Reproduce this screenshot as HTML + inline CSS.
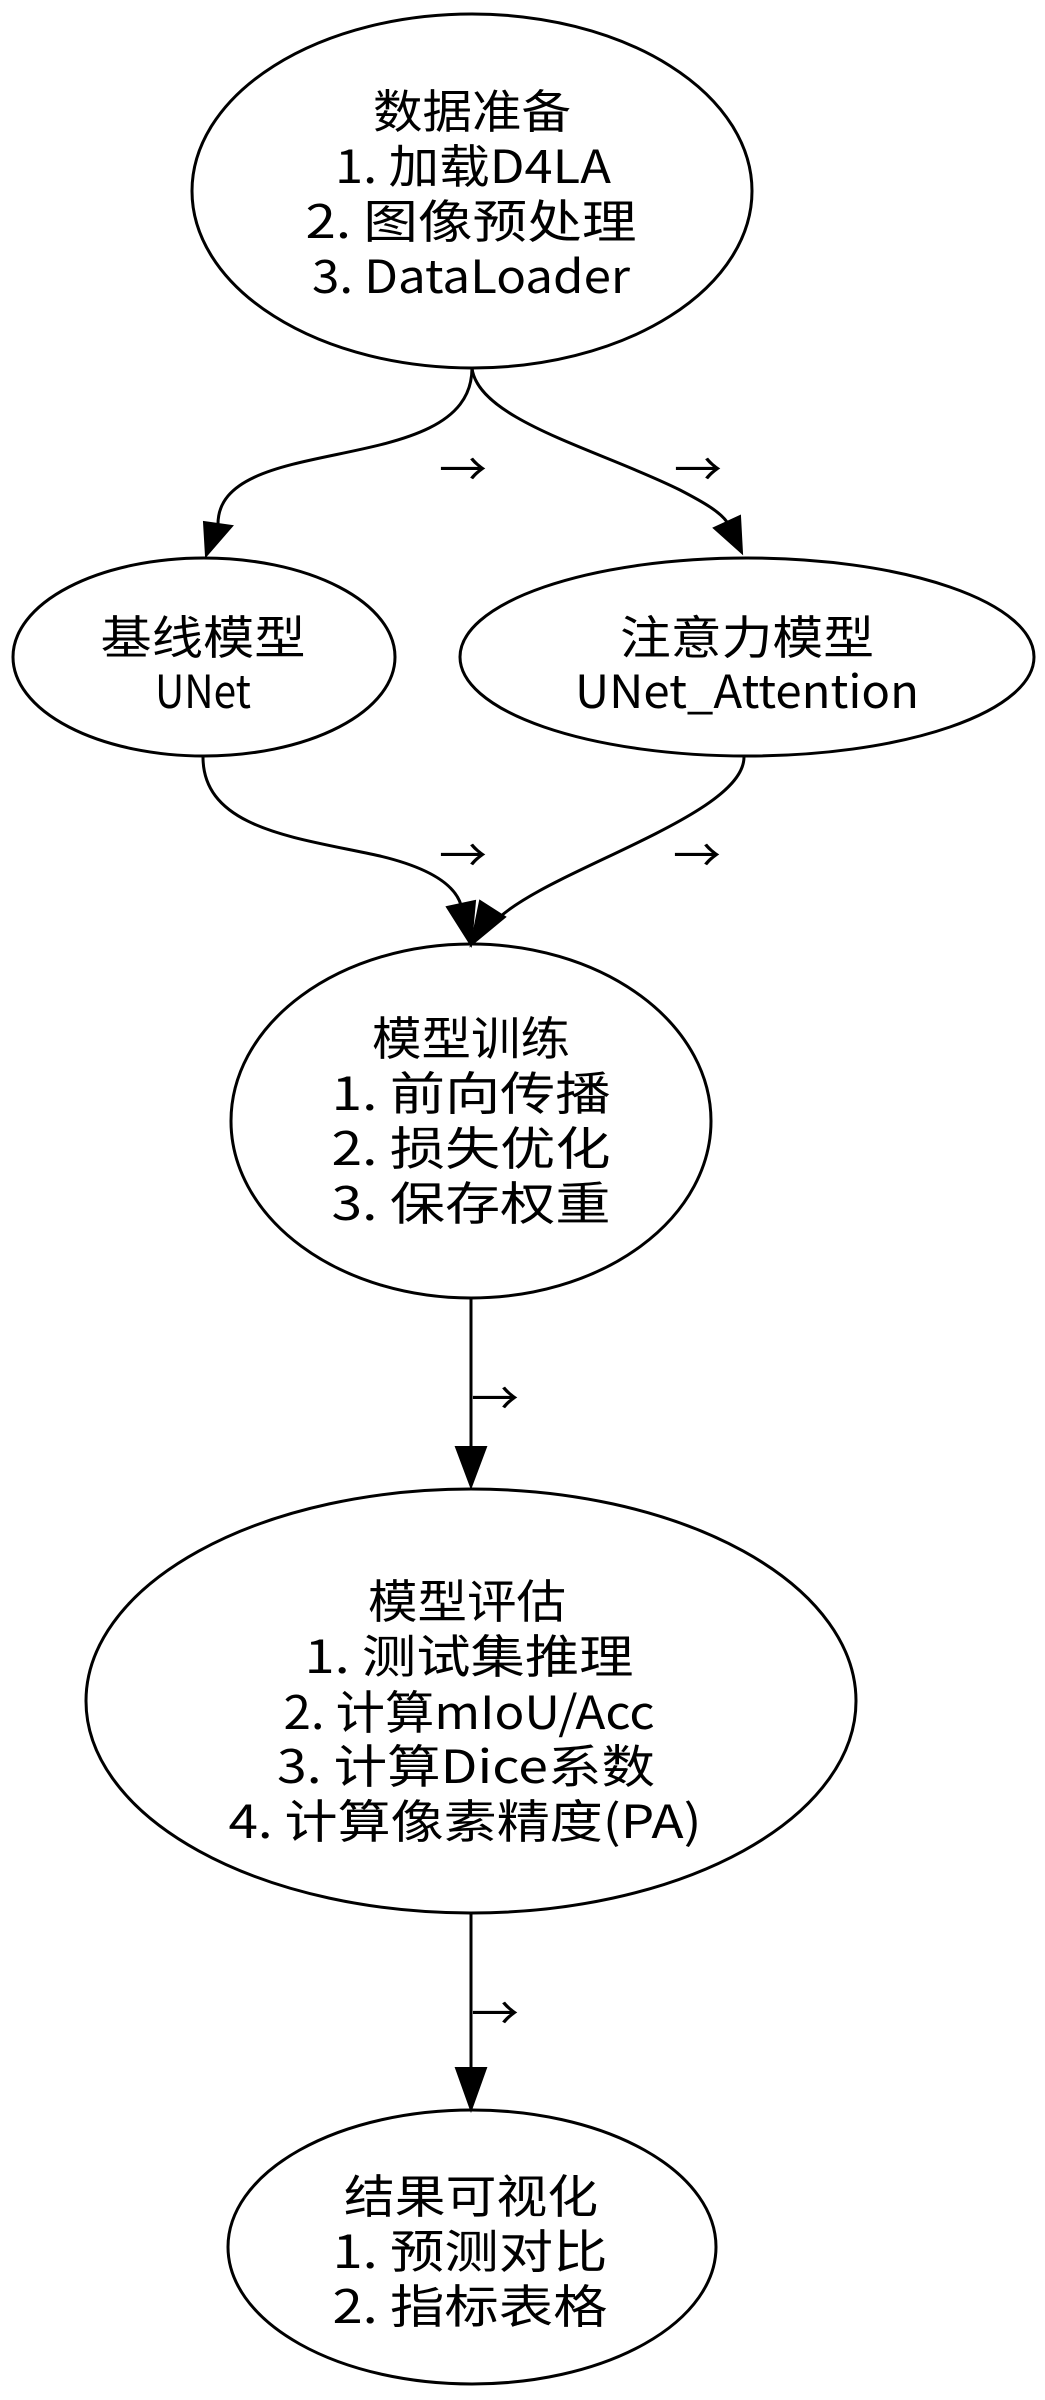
<!DOCTYPE html>
<html><head><meta charset="utf-8"><style>
html,body{margin:0;padding:0;background:#fff;}
svg{display:block;}
text{font-family:"WenQuanYi Zen Hei","Noto Sans CJK SC",sans-serif;font-size:46px;fill:#000;}
</style></head><body>
<svg width="1045" height="2400" viewBox="0 0 1045 2400" xmlns="http://www.w3.org/2000/svg">
<g fill="none" stroke="#000" stroke-width="3">
<ellipse cx="472" cy="191" rx="280" ry="177"/>
<ellipse cx="204" cy="657" rx="191" ry="99"/>
<ellipse cx="747" cy="657" rx="287" ry="99"/>
<ellipse cx="471" cy="1121" rx="240" ry="177"/>
<ellipse cx="471" cy="1701" rx="385" ry="212"/>
<ellipse cx="472" cy="2247" rx="244" ry="137"/>
<path d="M472,368 C472,480 218,430 218,524"/>
<path d="M472,368 C478,420 600,450 680,490 C705,503 720,512 727,522"/>
<path d="M203,757 C203,830 300,838 380,856 C430,868 455,885 461,905"/>
<path d="M744,757 C744,800 640,840 560,880 C520,900 500,915 492,925"/>
<path d="M471,1298 L471,1447"/>
<path d="M471,1913 L471,2068"/>
</g>
<g fill="#000" stroke="#000" stroke-width="2">
<polygon points="232,526 204,522 206,556"/>
<polygon points="740,516 714,528 742,553"/>
<polygon points="447,907 475,901 471,945"/>
<polygon points="480,901 505,917 471,945"/>
<polygon points="456,1447 486,1447 471,1487"/>
<polygon points="456,2068 486,2068 471,2110"/>
</g>
<g text-anchor="middle">
<text x="472" y="128" textLength="198" lengthAdjust="spacingAndGlyphs">数据准备</text>
<text x="473" y="183" textLength="276" lengthAdjust="spacingAndGlyphs">1. 加载D4LA</text>
<text x="471" y="238" textLength="331" lengthAdjust="spacingAndGlyphs">2. 图像预处理</text>
<text x="471" y="293" textLength="318" lengthAdjust="spacingAndGlyphs">3. DataLoader</text>

<text x="203" y="654" textLength="205" lengthAdjust="spacingAndGlyphs">基线模型</text>
<text x="203" y="708" textLength="96" lengthAdjust="spacingAndGlyphs">UNet</text>
<text x="747" y="654" textLength="254" lengthAdjust="spacingAndGlyphs">注意力模型</text>
<text x="747" y="708" textLength="344" lengthAdjust="spacingAndGlyphs">UNet_Attention</text>

<text x="471" y="1055" textLength="198" lengthAdjust="spacingAndGlyphs">模型训练</text>
<text x="471" y="1110" textLength="279" lengthAdjust="spacingAndGlyphs">1. 前向传播</text>
<text x="471" y="1165" textLength="279" lengthAdjust="spacingAndGlyphs">2. 损失优化</text>
<text x="471" y="1220" textLength="279" lengthAdjust="spacingAndGlyphs">3. 保存权重</text>

<text x="467" y="1618" textLength="198" lengthAdjust="spacingAndGlyphs">模型评估</text>
<text x="469" y="1673" textLength="329" lengthAdjust="spacingAndGlyphs">1. 测试集推理</text>
<text x="469" y="1729" textLength="371" lengthAdjust="spacingAndGlyphs">2. 计算mIoU/Acc</text>
<text x="466" y="1783" textLength="378" lengthAdjust="spacingAndGlyphs">3. 计算Dice系数</text>
<text x="465" y="1838" textLength="473" lengthAdjust="spacingAndGlyphs">4. 计算像素精度(PA)</text>

<text x="471" y="2213" textLength="254" lengthAdjust="spacingAndGlyphs">结果可视化</text>
<text x="470" y="2268" textLength="275" lengthAdjust="spacingAndGlyphs">1. 预测对比</text>
<text x="470" y="2323" textLength="275" lengthAdjust="spacingAndGlyphs">2. 指标表格</text>
</g>
<g>
<text x="439" y="486" textLength="48" lengthAdjust="spacingAndGlyphs">→</text>
<text x="674" y="486" textLength="48" lengthAdjust="spacingAndGlyphs">→</text>
<text x="439" y="872" textLength="48" lengthAdjust="spacingAndGlyphs">→</text>
<text x="673" y="872" textLength="48" lengthAdjust="spacingAndGlyphs">→</text>
<text x="471" y="1415" textLength="48" lengthAdjust="spacingAndGlyphs">→</text>
<text x="471" y="2030" textLength="48" lengthAdjust="spacingAndGlyphs">→</text>
</g>
</svg>
</body></html>
